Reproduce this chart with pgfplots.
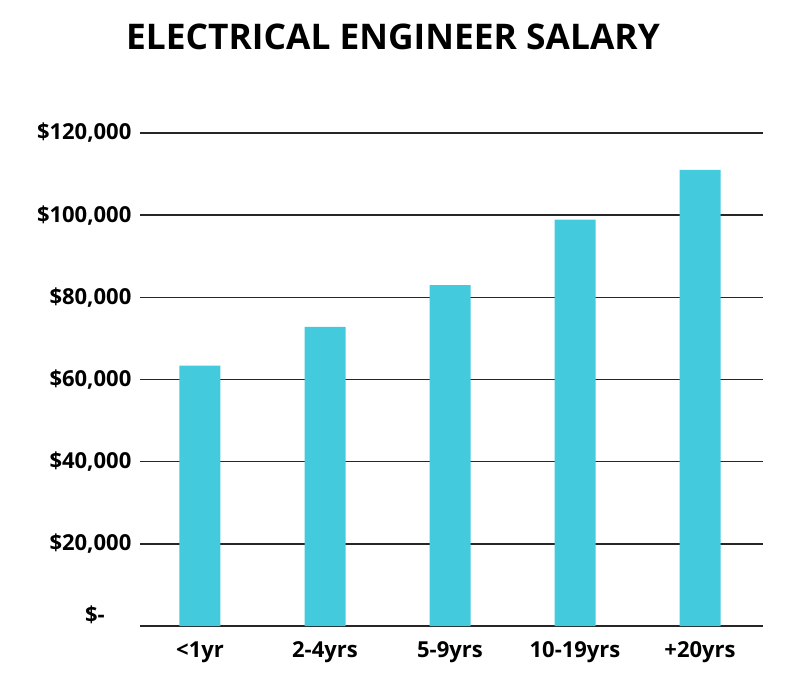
\documentclass[border=0pt]{standalone}
\usepackage{pgfplots}
\pgfplotsset{compat=1.18}
\usepackage{fontspec}
\setmainfont{Open Sans}
\definecolor{barc}{HTML}{43CBDD}
\begin{document}
\begin{tikzpicture}[x=0.75pt,y=0.75pt]
\path[use as bounding box] (-140,-60) rectangle (660,626);
\begin{axis}[
  at={(0,0)}, anchor=south west,
  scale only axis, width=467.25pt, height=369.75pt,
  xmin=-0.48, xmax=4.504, ymin=0, ymax=120000,
  axis line style={draw=none},
  xtick={0,1,2,3,4},
  xticklabels={{<1yr},{2-4yrs},{5-9yrs},{10-19yrs},{+20yrs}},
  ytick={0,20000,40000,60000,80000,100000,120000},
  yticklabels={{},{\$20,000},{\$40,000},{\$60,000},{\$80,000},{\$100,000},{\$120,000}},
  scaled y ticks=false,
  major tick length=0pt,
  ymajorgrids, grid style={black!85, line width=1.1pt},
  tick label style={font=\fontsize{16.5}{19}\selectfont\bfseries},
  xticklabel style={yshift=-8pt},
  yticklabel style={xshift=-3pt},
  /pgf/number format/assume math mode=true,
  clip=false,
]
\addplot[ybar, bar width=30.75pt, fill=barc, draw=none] coordinates {
(0,63400) (1,72800) (2,83000) (3,98900) (4,111000)};
\node[anchor=east, inner sep=0pt, font=\fontsize{16.5}{19}\selectfont\bfseries]
  at ([xshift=-26.25pt, yshift=8.25pt]rel axis cs:0,0) {\$-};
\end{axis}
\node[font=\fontsize{26.5}{30}\selectfont\bfseries] at (393-140,626-37) {ELECTRICAL ENGINEER SALARY};
\end{tikzpicture}
\end{document}
